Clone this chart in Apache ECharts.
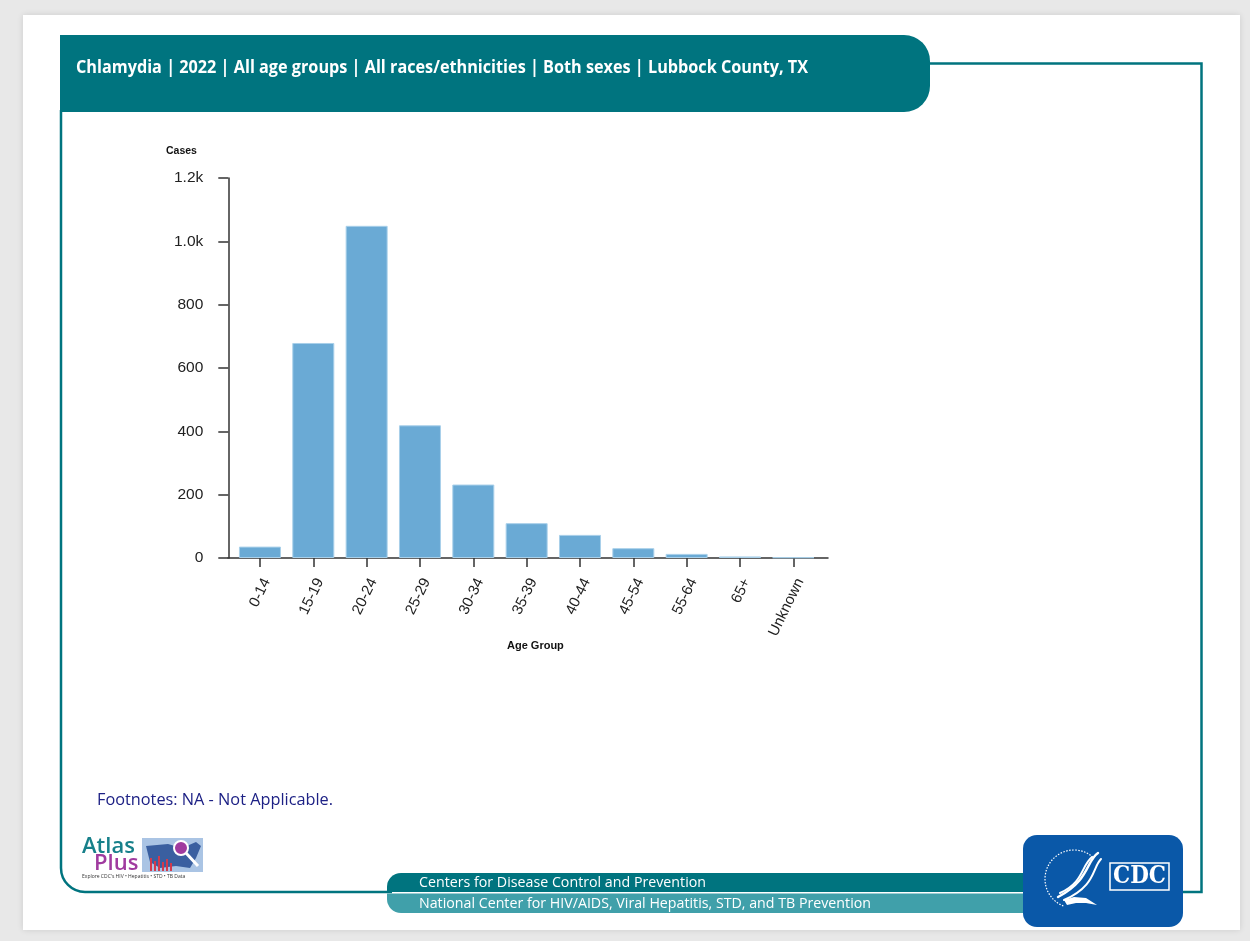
<!DOCTYPE html>
<html>
<head>
<meta charset="utf-8">
<script src="https://cdn.jsdelivr.net/npm/echarts@6/dist/echarts.min.js"></script>
<style>
  html, body { margin: 0; padding: 0; background: #e8e8e8; }
  #wrap { position: relative; width: 1250px; height: 941px; overflow: hidden; }
  #panel { position: absolute; left: 23px; top: 15px; width: 1217px; height: 915px;
           background: #fff; box-shadow: 0 0 6px rgba(0,0,0,0.12); }
  #chart { position: absolute; left: 0; top: 0; width: 1250px; height: 941px; }
</style>
</head>
<body>
<div id="wrap">
  <div id="panel"></div>
  <div id="chart"></div>
</div>
<script>
// Reported chlamydia cases by age group
const ageGroups = ['0-14', '15-19', '20-24', '25-29', '30-34', '35-39', '40-44', '45-54', '55-64', '65+', 'Unknown'];
const cases = [36, 679, 1049, 419, 232, 110, 73, 31, 13, 5, 2];

// Value axis range and tick step
const yMin = 0;
const yMax = 1200;
const yStep = 200;

// Header, axis titles and footer texts
const headerText = 'Chlamydia | 2022 | All age groups | All races/ethnicities | Both sexes | Lubbock County, TX';
const yAxisTitle = 'Cases';
const xAxisTitle = 'Age Group';
const footnoteText = 'Footnotes: NA - Not Applicable.';
const footerLine1 = 'Centers for Disease Control and Prevention';
const footerLine2 = 'National Center for HIV/AIDS, Viral Hepatitis, STD, and TB Prevention';

const TEAL = '#00747f';
const TEAL_LIGHT = '#40a0aa';
const BAR = '#6aaad5';

// horizontal scale needed so a string spans a given width
const measureCtx = document.createElement('canvas').getContext('2d');
function fitScale(text, font, width) {
  measureCtx.font = font;
  return width / measureCtx.measureText(text).width;
}

function fittedText(text, font, x, y, width, fill) {
  return {
    type: 'text', x: x, y: y, originX: 0, originY: 0,
    scaleX: fitScale(text, font, width),
    silent: true,
    style: { text: text, x: 0, y: 0, font: font, fill: fill,
             textAlign: 'left', textVerticalAlign: 'middle' }
  };
}

function curve(x1, y1, c1x, c1y, c2x, c2y, x2, y2, width) {
  return { type: 'bezierCurve', silent: true,
           shape: { x1: x1, y1: y1, cpx1: c1x, cpy1: c1y, cpx2: c2x, cpy2: c2y, x2: x2, y2: y2 },
           style: { fill: 'none', stroke: '#ffffff', lineWidth: width, lineCap: 'round' } };
}

function redBar(x, y, h) {
  return { type: 'rect', silent: true, shape: { x: x, y: y, width: 2, height: h },
           style: { fill: '#d23a4c' } };
}

const headerFont = "700 17px 'Open Sans'";
const footerFont = "400 15px 'Open Sans'";
const noteFont = "500 16px 'Open Sans'";

const chart = echarts.init(document.getElementById('chart'), null, { renderer: 'canvas' });

const axisColor = '#333';
const labelFont = "'Liberation Sans', Arial, sans-serif";

const option = {
  backgroundColor: 'transparent',
  animation: false,
  grid: [
    { left: 233.3, top: 178, width: 586.7, height: 380 },
    { left: 228, top: 178, width: 600, height: 380 }
  ],
  xAxis: [
    {
      type: 'category', gridIndex: 0, data: ageGroups,
      axisLine: { show: false },
      axisTick: { show: true, alignWithLabel: true, length: 9,
                  lineStyle: { color: axisColor, width: 1.5 } },
      axisLabel: { rotate: 64, margin: 18, fontSize: 15, color: '#222',
                   fontFamily: labelFont, verticalAlign: 'top', interval: 0 },
      splitLine: { show: false }
    },
    {
      // baseline spanning the full plot band
      type: 'value', gridIndex: 1, min: 0, max: 1,
      axisLine: { show: true, onZero: false, lineStyle: { color: axisColor, width: 1.5 } },
      axisTick: { show: false }, axisLabel: { show: false }, splitLine: { show: false }
    }
  ],
  yAxis: [
    {
      type: 'value', gridIndex: 0, min: yMin, max: yMax, interval: yStep,
      offset: 5,
      axisLine: { show: true, lineStyle: { color: axisColor, width: 1.5 } },
      axisTick: { show: true, length: 10, lineStyle: { color: axisColor, width: 1.5 } },
      axisLabel: {
        margin: 25, fontSize: 15.5, color: '#222', fontFamily: labelFont,
        formatter: function (v) { return v >= 1000 ? (v / 1000).toFixed(1) + 'k' : String(v); }
      },
      splitLine: { show: false }
    },
    { type: 'value', gridIndex: 1, show: false, min: 0, max: 1 }
  ],
  title: [
    { text: yAxisTitle, left: 161, top: 141,
      textStyle: { fontSize: 10.5, fontWeight: 'bold', color: '#111', fontFamily: labelFont } },
    { text: xAxisTitle, left: 502, top: 635,
      textStyle: { fontSize: 11, fontWeight: 'bold', color: '#111', fontFamily: labelFont } }
  ],
  series: [
    {
      type: 'bar', xAxisIndex: 0, yAxisIndex: 0, data: cases,
      barWidth: 42, silent: true,
      itemStyle: { color: BAR, borderColor: '#a9d0ea', borderWidth: 1 }
    }
  ],
  graphic: [
    // frame lines
    { type: 'polyline', silent: true,
      shape: { points: [[930, 63.5], [1201.5, 63.5], [1201.5, 892], [1180, 892]] },
      style: { fill: 'none', stroke: TEAL, lineWidth: 2.5 } },
    { type: 'polyline', silent: true,
      shape: { points: [[61, 110], [61, 868]] },
      style: { fill: 'none', stroke: TEAL, lineWidth: 2.5 } },
    { type: 'arc', silent: true,
      shape: { cx: 85, cy: 868, r: 24, startAngle: Math.PI / 2, endAngle: Math.PI, clockwise: true },
      style: { fill: 'none', stroke: TEAL, lineWidth: 2.5 } },
    { type: 'polyline', silent: true,
      shape: { points: [[85, 892], [392, 892]] },
      style: { fill: 'none', stroke: TEAL, lineWidth: 2.5 } },
    // header band
    { type: 'rect', silent: true,
      shape: { x: 60, y: 35, width: 870, height: 77, r: [0, 26, 26, 0] },
      style: { fill: TEAL } },
    fittedText(headerText, headerFont, 76, 68.5, 732, '#ffffff'),
    // footnote
    fittedText(footnoteText, noteFont, 97, 800, 236, '#1d2185'),
    // footer band
    { type: 'rect', silent: true,
      shape: { x: 387, y: 873, width: 650, height: 19, r: [14, 0, 0, 0] },
      style: { fill: TEAL } },
    { type: 'rect', silent: true,
      shape: { x: 387, y: 893.5, width: 650, height: 19.5, r: [0, 0, 0, 14] },
      style: { fill: TEAL_LIGHT } },
    fittedText(footerLine1, footerFont, 419, 882.5, 287, '#ffffff'),
    fittedText(footerLine2, footerFont, 419, 903.5, 452, '#ffffff'),
    // CDC badge
    { type: 'rect', silent: true,
      shape: { x: 1023, y: 835, width: 160, height: 92, r: 14 },
      style: { fill: '#0a58a8' } },
    { type: 'arc', silent: true,
      shape: { cx: 1074, cy: 879, r: 29, startAngle: Math.PI * 0.62, endAngle: Math.PI * 1.72, clockwise: true },
      style: { fill: 'none', stroke: '#ffffff', lineWidth: 1.2, lineDash: [1.5, 1.5] } },
    curve(1098, 853, 1086, 861, 1090, 880, 1058, 897, 2.4),
    curve(1092, 857, 1081, 866, 1084, 882, 1060, 893, 2),
    curve(1101, 859, 1092, 868, 1096, 886, 1064, 900, 2),
    { type: 'polygon', silent: true,
      shape: { points: [[1064, 900], [1074, 897], [1086, 898], [1097, 905], [1086, 903], [1076, 903], [1067, 905]] },
      style: { fill: '#ffffff' } },
    { type: 'rect', silent: true,
      shape: { x: 1110, y: 863, width: 59, height: 27 },
      style: { fill: 'none', stroke: '#ffffff', lineWidth: 1.5 } },
    fittedText('CDC', "700 24px 'DejaVu Serif'", 1113, 877, 53, '#ffffff'),
    // AtlasPlus mark
    { type: 'text', silent: true,
      style: { text: 'Atlas', x: 82, y: 847, font: "600 22px 'Open Sans'", fill: '#17808a',
               textVerticalAlign: 'middle' } },
    { type: 'text', silent: true,
      style: { text: 'Plus', x: 94, y: 864, font: "600 22px 'Open Sans'", fill: '#a03b9f',
               textVerticalAlign: 'middle' } },
    { type: 'rect', silent: true,
      shape: { x: 142, y: 838, width: 61, height: 34 },
      style: { fill: '#aac4e4' } },
    { type: 'polygon', silent: true,
      shape: { points: [[146, 846], [168, 844], [182, 848], [196, 842], [201, 846], [196, 858], [190, 868], [176, 866], [160, 868], [150, 862]] },
      style: { fill: '#3a5fa0' } },
    redBar(150, 858, 13), redBar(154, 861, 10), redBar(158, 856, 15),
    redBar(162, 862, 9), redBar(166, 859, 12), redBar(170, 863, 8),
    { type: 'circle', silent: true, shape: { cx: 181, cy: 848, r: 7 },
      style: { fill: '#a03b9f', stroke: '#ffffff', lineWidth: 2 } },
    { type: 'line', silent: true, shape: { x1: 186, y1: 853, x2: 198, y2: 866 },
      style: { stroke: '#ffffff', lineWidth: 3 } },
    { type: 'text', silent: true,
      style: { text: "Explore CDC's HIV • Hepatitis • STD • TB Data", x: 82, y: 877,
               font: "400 5px 'Open Sans'", fill: '#333', textVerticalAlign: 'middle' } }
  ]
};

chart.setOption(option);
</script>
</body>
</html>
